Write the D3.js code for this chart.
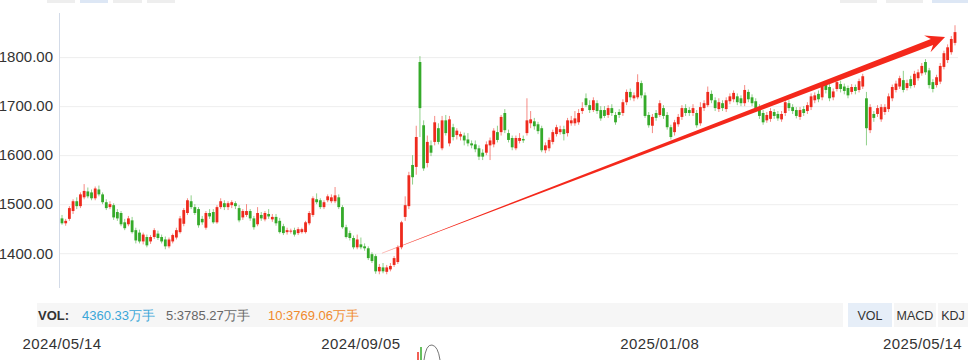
<!DOCTYPE html>
<html><head><meta charset="utf-8">
<script src="https://cdn.jsdelivr.net/npm/d3@7"></script>
<style>body{margin:0;background:#fff;} svg{display:block;font-family:"Liberation Sans",Arial,sans-serif;}</style>
</head><body><svg id="c" width="968" height="360"></svg>
<script>
// [open, high, low, close] per trading day, 2024/05/14 .. 2025/05/14
const ohlc = [
[1471,1478,1458,1461],[1461,1470,1456,1466],[1470,1496,1466,1492],[1486,1510,1480,1506],[1506,1514,1490,1496],
[1496,1524,1492,1520],[1514,1541,1510,1527],[1526,1534,1512,1516],[1524,1530,1508,1512],[1512,1536,1508,1532],
[1530,1538,1516,1520],[1520,1524,1500,1504],[1504,1510,1488,1492],[1494,1506,1490,1500],[1498,1502,1468,1473],
[1484,1490,1466,1471],[1482,1486,1455,1459],[1463,1470,1447,1451],[1459,1476,1455,1471],[1467,1474,1440,1443],
[1447,1452,1420,1426],[1442,1448,1420,1424],[1424,1442,1418,1438],[1433,1438,1412,1416],[1424,1437,1419,1433],
[1433,1451,1429,1447],[1440,1446,1427,1431],[1433,1438,1420,1424],[1428,1434,1408,1414],[1414,1432,1410,1428],
[1424,1440,1420,1437],[1432,1452,1428,1447],[1443,1476,1440,1471],[1460,1492,1455,1488],[1482,1512,1478,1508],
[1506,1518,1490,1494],[1494,1500,1478,1482],[1490,1494,1452,1457],[1470,1476,1458,1463],[1452,1486,1448,1482],
[1482,1490,1470,1475],[1484,1490,1460,1463],[1463,1498,1460,1494],[1494,1512,1490,1506],[1502,1508,1488,1494],
[1494,1506,1488,1502],[1498,1508,1492,1504],[1502,1506,1490,1496],[1492,1498,1463,1467],[1473,1490,1468,1486],
[1478,1500,1474,1486],[1486,1490,1466,1471],[1471,1476,1448,1453],[1459,1494,1455,1482],[1478,1484,1466,1471],
[1469,1486,1465,1482],[1480,1490,1470,1475],[1469,1480,1464,1474],[1474,1480,1456,1461],[1466,1472,1440,1443],
[1455,1460,1437,1441],[1443,1452,1438,1447],[1444,1450,1440,1446],[1447,1452,1434,1438],[1441,1453,1437,1449],
[1443,1452,1440,1449],[1443,1466,1440,1463],[1461,1486,1457,1482],[1478,1516,1474,1512],[1510,1522,1500,1504],
[1508,1512,1490,1494],[1494,1508,1490,1504],[1508,1520,1504,1516],[1506,1520,1502,1514],[1506,1535,1502,1518],
[1514,1520,1490,1494],[1494,1498,1450,1453],[1453,1458,1430,1433],[1441,1446,1426,1431],[1431,1436,1408,1412],
[1412,1438,1408,1428],[1418,1432,1408,1412],[1414,1420,1405,1410],[1410,1414,1386,1390],[1398,1402,1380,1384],
[1394,1398,1358,1363],[1363,1378,1357,1372],[1371,1380,1359,1363],[1362,1376,1357,1371],[1367,1380,1363,1374],
[1376,1394,1372,1390],[1382,1416,1378,1412],[1412,1466,1408,1463],[1474,1516,1466,1498],[1496,1566,1490,1559],
[1580,1600,1540,1555],[1576,1660,1560,1637],[1790,1802,1637,1696],[1661,1671,1568,1573],[1584,1640,1575,1627],
[1620,1630,1598,1605],[1627,1680,1620,1667],[1655,1665,1622,1627],[1614,1680,1610,1671],[1671,1682,1640,1645],
[1624,1680,1618,1673],[1657,1664,1630,1637],[1641,1655,1632,1650],[1638,1648,1630,1643],[1640,1646,1620,1630],
[1632,1645,1618,1624],[1624,1630,1614,1620],[1622,1630,1606,1612],[1614,1620,1590,1597],[1605,1612,1590,1597],
[1605,1628,1600,1622],[1620,1636,1590,1630],[1622,1655,1616,1650],[1647,1660,1626,1631],[1647,1682,1640,1678],
[1686,1694,1645,1651],[1645,1652,1626,1631],[1635,1640,1610,1616],[1614,1640,1610,1635],[1629,1645,1624,1635],
[1633,1640,1625,1630],[1645,1716,1640,1671],[1665,1690,1655,1673],[1669,1676,1652,1659],[1663,1668,1643,1649],
[1655,1660,1606,1610],[1610,1626,1604,1620],[1614,1636,1608,1631],[1627,1652,1622,1647],[1643,1662,1638,1657],
[1647,1660,1642,1653],[1653,1660,1630,1643],[1645,1676,1638,1671],[1665,1680,1660,1671],[1665,1690,1660,1675],
[1667,1694,1662,1686],[1690,1708,1684,1696],[1716,1726,1698,1702],[1702,1712,1686,1692],[1692,1718,1688,1712],
[1706,1712,1684,1690],[1692,1700,1670,1675],[1692,1700,1676,1680],[1682,1702,1676,1696],[1696,1704,1680,1686],
[1682,1688,1662,1667],[1688,1694,1676,1682],[1686,1714,1680,1708],[1708,1734,1702,1729],[1729,1736,1712,1718],
[1716,1728,1710,1722],[1718,1765,1714,1749],[1747,1752,1716,1722],[1722,1728,1676,1680],[1682,1688,1656,1661],
[1660,1684,1645,1678],[1686,1692,1670,1676],[1682,1712,1678,1706],[1696,1702,1674,1680],[1682,1688,1652,1657],
[1657,1662,1632,1637],[1647,1672,1640,1667],[1663,1684,1658,1678],[1678,1702,1672,1696],[1696,1704,1680,1686],
[1692,1698,1680,1686],[1686,1704,1680,1696],[1686,1692,1656,1661],[1665,1708,1660,1698],[1696,1712,1690,1706],
[1702,1740,1698,1729],[1725,1732,1706,1712],[1712,1718,1690,1696],[1694,1716,1688,1708],[1706,1712,1690,1696],
[1694,1718,1688,1712],[1710,1726,1704,1720],[1714,1732,1708,1727],[1720,1726,1702,1708],[1716,1722,1700,1706],
[1706,1743,1700,1733],[1729,1734,1708,1714],[1718,1724,1700,1706],[1710,1716,1688,1694],[1698,1704,1674,1680],
[1686,1692,1662,1667],[1671,1688,1666,1682],[1674,1696,1668,1690],[1688,1694,1674,1680],[1684,1690,1670,1675],
[1673,1690,1668,1684],[1686,1714,1680,1708],[1706,1712,1690,1696],[1698,1704,1684,1690],[1692,1698,1675,1680],
[1678,1698,1672,1692],[1694,1700,1680,1686],[1690,1708,1684,1702],[1698,1726,1692,1720],[1712,1728,1706,1722],
[1725,1732,1708,1714],[1718,1748,1712,1741],[1743,1750,1726,1733],[1739,1745,1710,1716],[1718,1736,1712,1730],
[1735,1756,1730,1749],[1745,1752,1728,1735],[1740,1746,1724,1731],[1737,1742,1716,1722],[1729,1745,1724,1739],
[1739,1744,1724,1731],[1733,1756,1728,1751],[1740,1766,1735,1761],[1716,1729,1620,1655],[1651,1704,1645,1698],
[1684,1690,1668,1676],[1684,1702,1678,1696],[1673,1704,1668,1698],[1688,1704,1682,1698],[1694,1726,1688,1720],
[1716,1744,1710,1739],[1733,1752,1728,1746],[1740,1762,1735,1757],[1753,1772,1728,1733],[1737,1754,1732,1747],
[1755,1762,1736,1741],[1743,1772,1738,1766],[1757,1775,1752,1769],[1767,1788,1762,1782],[1790,1796,1764,1769],
[1773,1778,1736,1743],[1749,1755,1728,1735],[1743,1764,1738,1759],[1750,1788,1745,1782],[1780,1813,1775,1808],
[1794,1826,1788,1820],[1810,1843,1805,1837],[1829,1865,1824,1851]
];
const yTicks = [1400, 1500, 1600, 1700, 1800];
const dateTicks = [
  {i: 0, label: "2024/05/14"}, {i: 81, label: "2024/09/05"},
  {i: 162, label: "2025/01/08"}, {i: 242, label: "2025/05/14"}
];
const volItems = [
  {text: "4360.33万手", color: "#3aa6d8"},
  {text: "5:3785.27万手", color: "#666666"},
  {text: "10:3769.06万手", color: "#f08a2c"}
];
const indicatorTabs = ["VOL", "MACD", "KDJ"];
// trend arrow annotation in data coordinates (candle index, price)
const trendArrow = {from: {i: 86.7, p: 1400}, to: {i: 239.3, p: 1841}};

const svg = d3.select("#c");
const x = d3.scaleLinear().domain([0, ohlc.length - 1]).range([62, 955]);
const y = d3.scaleLinear().domain([1329, 1890]).range([288, 13]);
const UP = "#ee2a1d", DOWN = "#35aa2a";

// top cut-off tabs
const topTabs = [[47,75,"#eeeeee"],[80,108,"#dde7f5"],[113,142,"#eeeeee"],[147,175,"#eeeeee"],
                 [840,877,"#eeeeee"],[886,923,"#eeeeee"],[932,968,"#dde7f5"]];
svg.selectAll("rect.tt").data(topTabs).enter().append("rect")
  .attr("x", d => d[0]).attr("y", 0).attr("width", d => d[1]-d[0]).attr("height", 3)
  .attr("fill", d => d[2]);

// grid + y labels
const yAxis = d3.axisLeft(y).tickValues(yTicks).tickFormat(d3.format(".2f"))
  .tickSize(-(958 - 59)).tickPadding(6);
const gy = svg.append("g").attr("transform", "translate(59,0)").call(yAxis);
gy.select(".domain").remove();
gy.selectAll(".tick line").attr("stroke", "#eeeeee");
gy.selectAll(".tick text").attr("fill", "#333").style("font-size", "15px")
  .style("font-family", "'Liberation Sans', Arial, sans-serif");
svg.append("line").attr("x1", 59.5).attr("x2", 59.5).attr("y1", 13).attr("y2", 288)
  .attr("stroke", "#d3dbe8");

// candles
const cg = svg.append("g");
cg.selectAll("line.w").data(ohlc).enter().append("line")
  .attr("x1", (d, i) => x(i)).attr("x2", (d, i) => x(i))
  .attr("y1", d => y(d[1])).attr("y2", d => y(d[2]))
  .attr("stroke", d => d[3] >= d[0] ? UP : DOWN).attr("stroke-opacity", 0.55).attr("stroke-width", 1);
cg.selectAll("rect.b").data(ohlc).enter().append("rect")
  .attr("x", (d, i) => x(i) - 1.4).attr("width", 2.8)
  .attr("y", d => y(Math.max(d[0], d[3])))
  .attr("height", d => Math.max(1, Math.abs(y(d[0]) - y(d[3]))))
  .attr("fill", d => d[3] >= d[0] ? UP : DOWN);

// arrow
(function () {
  const sx = x(trendArrow.from.i), sy = y(trendArrow.from.p);
  const tx = x(trendArrow.to.i), ty = y(trendArrow.to.p);
  const dx = tx - sx, dy = ty - sy, L = Math.hypot(dx, dy);
  const ux = dx / L, uy = dy / L, nx = -uy, ny = ux;
  const headLen = 19, headHalf = 9, shaftHalf = 3.2, sweep = 5;
  const bx = tx - headLen * ux, by = ty - headLen * uy;
  const pts = [
    [sx, sy],
    [bx + sweep * ux - shaftHalf * nx, by + sweep * uy - shaftHalf * ny],
    [bx - headHalf * nx, by - headHalf * ny],
    [tx, ty],
    [bx + headHalf * nx, by + headHalf * ny],
    [bx + sweep * ux + shaftHalf * nx, by + sweep * uy + shaftHalf * ny]
  ];
  svg.append("path").attr("d", "M" + pts.map(q => q.join(",")).join("L") + "Z")
    .attr("fill", "#f4281b");
  svg.append("line").attr("x1", sx).attr("y1", sy).attr("x2", sx + 60 * ux).attr("y2", sy + 60 * uy)
    .attr("stroke", "#f4281b").attr("stroke-opacity", 0.35).attr("stroke-width", 0.8);
})();

// VOL bar
svg.append("rect").attr("x", 37).attr("y", 303).attr("width", 806).attr("height", 24).attr("fill", "#f6f6f6");
svg.append("text").attr("x", 38).attr("y", 319.5).text("VOL:").attr("fill", "#333")
  .style("font-size", "13px").style("font-weight", "bold");
const volX = [82, 166, 268];
svg.selectAll("text.vi").data(volItems).enter().append("text")
  .attr("x", (d, i) => volX[i]).attr("y", 319.5).text(d => d.text).attr("fill", d => d.color)
  .style("font-size", "13px");
const tabX = [[848, 892, "#e6eef8"], [894, 936, "#f6f6f6"], [938, 968, "#f6f6f6"]];
svg.selectAll("rect.tab").data(indicatorTabs).enter().append("rect")
  .attr("x", (d, i) => tabX[i][0]).attr("y", 303).attr("width", (d, i) => tabX[i][1] - tabX[i][0])
  .attr("height", 24).attr("fill", (d, i) => tabX[i][2]);
svg.selectAll("text.tab").data(indicatorTabs).enter().append("text")
  .attr("x", (d, i) => (tabX[i][0] + tabX[i][1]) / 2).attr("y", 319.5).attr("text-anchor", "middle")
  .text(d => d).attr("fill", "#333").style("font-size", "12.5px");

// date labels
svg.selectAll("text.dt").data(dateTicks).enter().append("text")
  .attr("x", d => d.i === ohlc.length - 1 ? 962 : x(d.i))
  .attr("y", 349)
  .attr("text-anchor", d => d.i === ohlc.length - 1 ? "end" : "middle")
  .text(d => d.label).attr("fill", "#333").style("font-size", "15px").style("letter-spacing", "0.4px");

// cut-off mini chart fragment at bottom
svg.append("line").attr("x1", 418).attr("x2", 418).attr("y1", 352).attr("y2", 360).attr("stroke", UP).attr("stroke-width", 1.5);
svg.append("line").attr("x1", 421).attr("x2", 421).attr("y1", 347).attr("y2", 360).attr("stroke", DOWN).attr("stroke-width", 1.5);
svg.append("path").attr("d", "M424,360 Q426,344 432,345 Q438,346 440,360").attr("fill", "none").attr("stroke", "#777").attr("stroke-width", 1);
</script></body></html>
